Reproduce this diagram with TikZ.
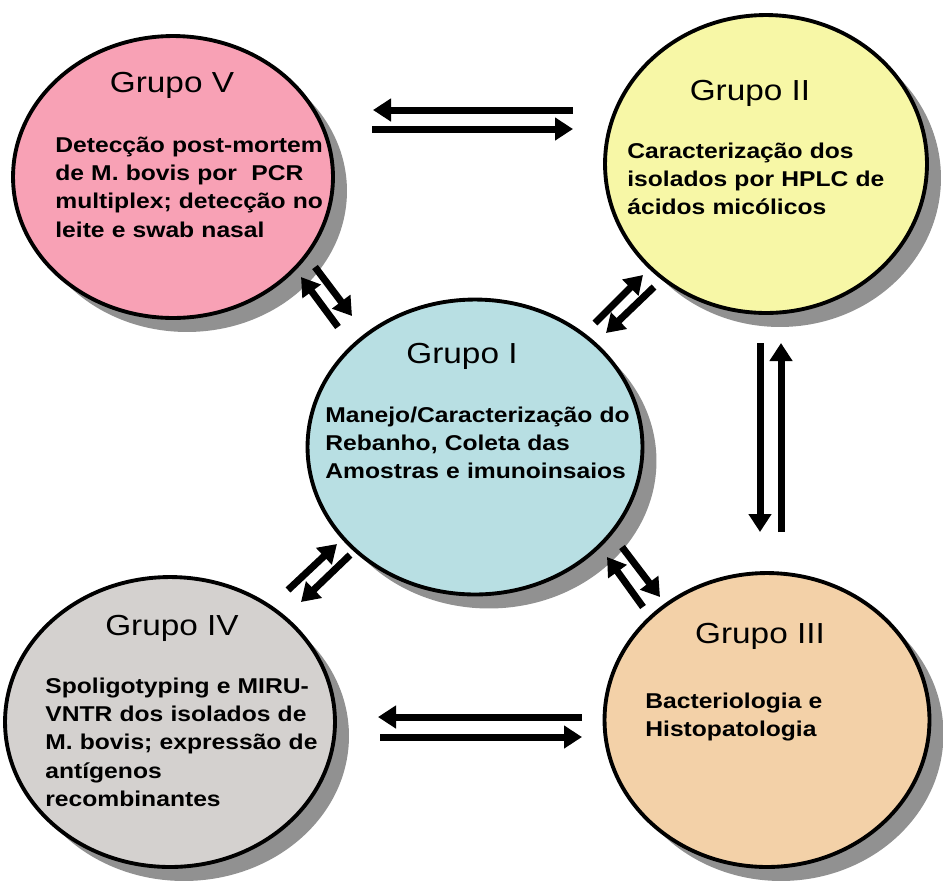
\documentclass[tikz,border=0pt]{standalone}
\usepackage{fontspec}
\setmainfont{Liberation Sans}
\newfontfamily\grpfont[FakeStretch=1.15]{Liberation Sans}
\usepackage{tikz}
\usetikzlibrary{shapes.geometric, arrows.meta, shadows}

\definecolor{rosa}{RGB}{248,161,181}
\definecolor{amarelo}{RGB}{247,247,166}
\definecolor{azul}{RGB}{184,223,227}
\definecolor{cinza}{RGB}{212,209,207}
\definecolor{pessego}{RGB}{243,209,168}
\definecolor{sombra}{RGB}{145,145,145}

\begin{document}
\begin{tikzpicture}[x=0.02cm, y=-0.02cm,
        grupo/.style={ellipse, draw, line width=2.2pt, inner sep=0pt,
            drop shadow={shadow xshift=0.28cm, shadow yshift=-0.28cm, fill=sombra, opacity=1}},
        titulo/.style={font=\grpfont\fontsize{16.5}{20}\selectfont, inner sep=0pt, anchor=base},
        texto/.style={font=\grpfont\bfseries\fontsize{12.2}{16.2}\selectfont, inner sep=0pt,
            anchor=base west, align=left, text width=9cm},
        seta/.style={line width=0.14cm, -{Triangle[length=0.36cm, width=0.44cm]}}]

        \useasboundingbox (0,0) rectangle (943,887);

        \node (g5) [grupo, fill=rosa, minimum width=6.4cm, minimum height=5.64cm] at (173,177) {};
        \node (g2) [grupo, fill=amarelo, minimum width=6.44cm, minimum height=5.96cm] at (766,164) {};
        \node (g1) [grupo, fill=azul, minimum width=6.7cm, minimum height=5.9cm] at (475,447) {};
        \node (g4) [grupo, fill=cinza, minimum width=6.6cm, minimum height=5.8cm] at (170,722) {};
        \node (g3) [grupo, fill=pessego, minimum width=6.5cm, minimum height=5.88cm] at (767,720) {};

        \node (t5) [titulo] at (172,92) {Grupo V};
        \node (x5) [texto] at (55,152) {Detecção post-mortem\\de M. bovis por~ PCR\\multiplex; detecção no\\leite e swab nasal};
        \node (t2) [titulo] at (750,100) {Grupo II};
        \node (x2) [texto] at (627,158) {Caracterização dos\\isolados por HPLC de\\ácidos micólicos};
        \node (t1) [titulo] at (462,363) {Grupo I};
        \node (x1) [texto] at (325,422) {Manejo/Caracterização do\\Rebanho, Coleta das\\Amostras e imunoinsaios};
        \node (t4) [titulo] at (172,635) {Grupo IV};
        \node (x4) [texto] at (45,693) {Spoligotyping e MIRU-\\VNTR dos isolados de\\M. bovis; expressão de\\antígenos\\recombinantes};
        \node (t3) [titulo] at (760,643) {Grupo III};
        \node (x3) [texto] at (645,708) {Bacteriologia e\\Histopatologia};

        % V <-> II
        \coordinate (v2a) at (573,110); \coordinate (v2b) at (373,110);
        \coordinate (v2c) at (372,129); \coordinate (v2d) at (573,129);
        \draw [seta] (v2a) -- (v2b);
        \draw [seta] (v2c) -- (v2d);
        % IV <-> III
        \coordinate (iv3a) at (582,717); \coordinate (iv3b) at (378,717);
        \coordinate (iv3c) at (380,737); \coordinate (iv3d) at (582,737);
        \draw [seta] (iv3a) -- (iv3b);
        \draw [seta] (iv3c) -- (iv3d);
        % II <-> III
        \coordinate (ii3a) at (760,343); \coordinate (ii3b) at (760,532);
        \coordinate (ii3c) at (781,532); \coordinate (ii3d) at (781,343);
        \draw [seta] (ii3a) -- (ii3b);
        \draw [seta] (ii3c) -- (ii3d);
        % I <-> V
        \coordinate (i5a) at (338,327); \coordinate (i5b) at (301,277);
        \coordinate (i5c) at (315,267); \coordinate (i5d) at (352,316);
        \draw [seta] (i5a) -- (i5b);
        \draw [seta] (i5c) -- (i5d);
        % I <-> II
        \coordinate (i2a) at (595,323); \coordinate (i2b) at (643,275);
        \coordinate (i2c) at (654,287); \coordinate (i2d) at (606,333);
        \draw [seta] (i2a) -- (i2b);
        \draw [seta] (i2c) -- (i2d);
        % I <-> IV
        \coordinate (i4a) at (288,590); \coordinate (i4b) at (337,544);
        \coordinate (i4c) at (350,555); \coordinate (i4d) at (301,602);
        \draw [seta] (i4a) -- (i4b);
        \draw [seta] (i4c) -- (i4d);
        % I <-> III
        \coordinate (i3a) at (643,607); \coordinate (i3b) at (607,557);
        \coordinate (i3c) at (622,547); \coordinate (i3d) at (660,597);
        \draw [seta] (i3a) -- (i3b);
        \draw [seta] (i3c) -- (i3d);

\end{tikzpicture}
\end{document}
